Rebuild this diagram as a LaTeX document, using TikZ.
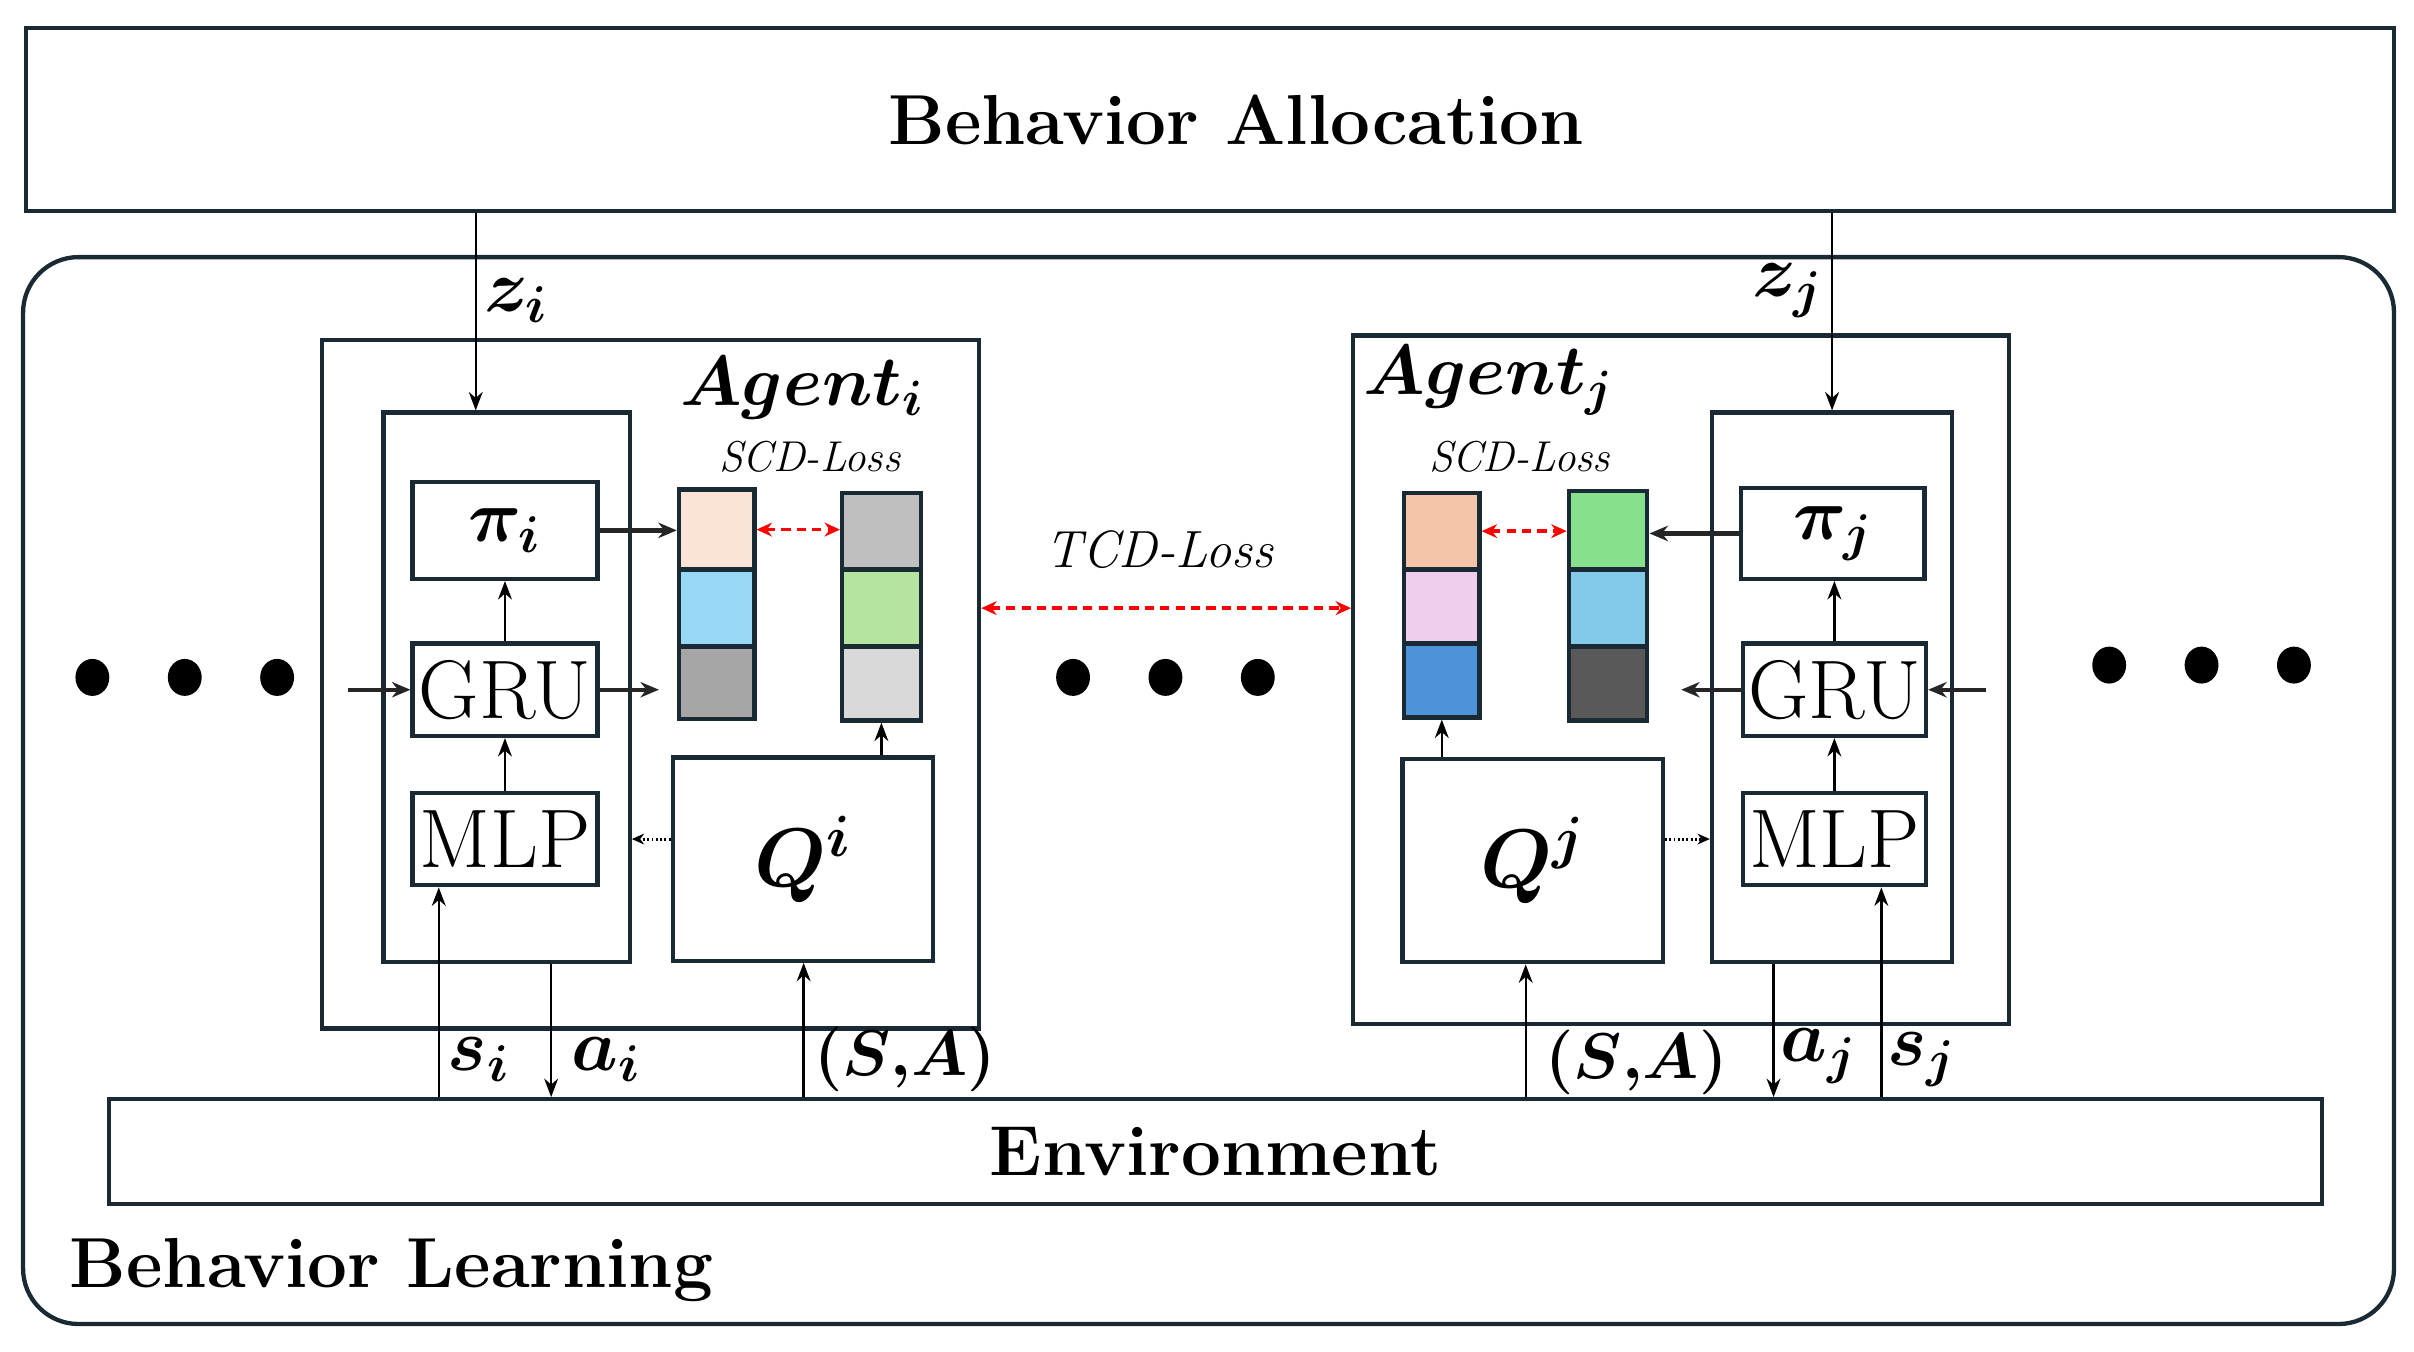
\RequirePackage{fix-cm}
\documentclass[tikz,border=0pt]{standalone}
\usepackage{amsmath,bm}
\usepackage{fontspec}
\usetikzlibrary{fit,arrows.meta,calc}
\definecolor{bc}{RGB}{25,42,52}
\definecolor{cpeachA}{RGB}{251,228,214}
\definecolor{cblueA}{RGB}{150,216,245}
\definecolor{cgrayA}{RGB}{166,166,166}
\definecolor{cgrayB}{RGB}{191,191,191}
\definecolor{cgreenB}{RGB}{180,228,160}
\definecolor{clgrayB}{RGB}{217,217,217}
\definecolor{cpeachC}{RGB}{244,197,168}
\definecolor{cpinkC}{RGB}{239,205,236}
\definecolor{cblueC}{RGB}{78,147,217}
\definecolor{cgreenD}{RGB}{134,224,140}
\definecolor{cskyD}{RGB}{130,202,232}
\definecolor{cdarkD}{RGB}{89,89,89}
\begin{document}
\begin{tikzpicture}[x=0.5pt,y=-0.5pt,
  box/.style={draw=bc, line width=1.4pt, inner sep=0pt, fill=white},
  cell/.style={draw=bc, line width=1.4pt, inner sep=0pt},
  arr/.style={-{Stealth[length=6pt,width=4.5pt]}, line width=0.75pt, black},
  arrthick/.style={-{Stealth[length=6pt,width=5pt]}, line width=1.4pt, black!85},
  dotarr/.style={-{Stealth[length=4pt,width=3.5pt]}, line width=1pt, dash pattern=on 0.6pt off 0.8pt, black},
  redarr/.style={{Stealth[length=5pt,width=4.5pt]}-{Stealth[length=5pt,width=4.5pt]}, line width=1.2pt, red, dash pattern=on 3pt off 2pt},
  bigtxt/.style={font=\fontsize{23}{27}\selectfont\bfseries, inner sep=0pt},
  lbl/.style={font=\fontsize{24}{28}\selectfont, inner sep=0pt},
  blk/.style={font=\fontsize{27}{30}\selectfont, inner sep=0pt},
  satxt/.style={font=\fontsize{21}{25}\selectfont, inner sep=0pt}
]
\useasboundingbox (0,0) rectangle (1568,877.6);

% outer boxes
\node[draw=bc, line width=1.4pt, rounded corners=18pt, inner sep=0pt, fit={(15,167)(1555,860)}] (learn) {};
\node[anchor=west, bigtxt] (learntxt) at (45,825) {Behavior Learning};
\node[box, fit={(17,18)(1555,137)}] (alloc) {};
\node[bigtxt] (alloctxt) at (803,78) {Behavior Allocation};
\node[box, fit={(71,714)(1508,782)}] (env) {};
\node[bigtxt] (envtxt) at (env.center) {Environment};

% ---------------- Agent i ----------------
\node[box, fit={(209,221)(636,668)}] (agI) {};
\node[box, fit={(249,268)(409,625)}] (inI) {};
\node[box, fit={(268,313)(388,376)}] (piI) {};
\node[lbl] (piItxt) at (piI.center) {$\bm{\pi_i}$};
\node[box, fit={(268,418)(388,478)}] (gruI) {};
\node[blk] (gruItxt) at (gruI.center) {GRU};
\node[box, fit={(268,515)(388,575)}] (mlpI) {};
\node[blk] (mlpItxt) at (mlpI.center) {MLP};
\node[box, fit={(437,492)(606,624)}] (qI) {};
\node[font=\fontsize{27}{30}\selectfont, inner sep=0pt] (qItxt) at (qI.center) {$\bm{Q^i}$};
\node[cell, fill=cpeachA, fit={(441,318)(490,370)}] (ca1) {};
\node[cell, fill=cblueA, fit={(441,370)(490,420)}] (ca2) {};
\node[cell, fill=cgrayA, fit={(441,420)(490,467)}] (ca3) {};
\node[cell, fill=cgrayB, fit={(547,320)(598,370)}] (cb1) {};
\node[cell, fill=cgreenB, fit={(547,370)(598,420)}] (cb2) {};
\node[cell, fill=clgrayB, fit={(547,420)(598,468)}] (cb3) {};
\node[font=\fontsize{23}{26}\selectfont, inner sep=0pt] (agItxt) at (521,252) {$\bm{Agent_i}$};
\node[font=\fontsize{14}{16}\selectfont\itshape, inner sep=0pt] (scdI) at (526,297) {SCD-Loss};

% ---------------- Agent j ----------------
\node[box, fit={(879,218)(1305,665)}] (agJ) {};
\node[box, fit={(1112,268)(1268,625)}] (inJ) {};
\node[box, fit={(1131,317)(1250,376)}] (piJ) {};
\node[lbl] (piJtxt) at (piJ.center) {$\bm{\pi_j}$};
\node[box, fit={(1132,418)(1251,478)}] (gruJ) {};
\node[blk] (gruJtxt) at (gruJ.center) {GRU};
\node[box, fit={(1132,515)(1251,575)}] (mlpJ) {};
\node[blk] (mlpJtxt) at (mlpJ.center) {MLP};
\node[box, fit={(911,493)(1080,625)}] (qJ) {};
\node[font=\fontsize{27}{30}\selectfont, inner sep=0pt] (qJtxt) at (qJ.center) {$\bm{Q^j}$};
\node[cell, fill=cpeachC, fit={(912,320)(961,370)}] (cc1) {};
\node[cell, fill=cpinkC, fit={(912,370)(961,418)}] (cc2) {};
\node[cell, fill=cblueC, fit={(912,418)(961,466)}] (cc3) {};
\node[cell, fill=cgreenD, fit={(1019,319)(1070,370)}] (cd1) {};
\node[cell, fill=cskyD, fit={(1019,370)(1070,420)}] (cd2) {};
\node[cell, fill=cdarkD, fit={(1019,420)(1070,468)}] (cd3) {};
\node[font=\fontsize{23}{26}\selectfont, inner sep=0pt] (agJtxt) at (967,247) {$\bm{Agent_j}$};
\node[font=\fontsize{14}{16}\selectfont\itshape, inner sep=0pt] (scdJ) at (987,297) {SCD-Loss};

\node[font=\fontsize{17}{20}\selectfont\itshape, inner sep=0pt] (tcd) at (753,357) {TCD-Loss};

% free-end coordinates
\coordinate (zi) at (309,137);
\coordinate (zj) at (1190,137);
\coordinate (giIn) at (226,448);
\coordinate (giOut) at (428,448);
\coordinate (gjOut) at (1092,448);
\coordinate (gjIn) at (1290,448);
\coordinate (si) at (285,714);
\coordinate (ai) at (358,714);
\coordinate (sai) at (522,714);
\coordinate (saj) at (991,714);
\coordinate (aj) at (1152,714);
\coordinate (sj) at (1222,714);
\coordinate (tcdy) at (0,395);

% arrows agent i
\draw[arr] (zi |- alloc.south) -- (zi |- inI.north);
\draw[arrthick] (piI.east) -- (piI.east -| ca1.west);
\draw[redarr] (ca1.east) -- (ca1.east -| cb1.west);
\draw[arrthick] (giIn) -- (giIn -| gruI.west);
\draw[arrthick] (gruI.east |- giOut) -- (giOut);
\draw[arr] (gruI.north) -- (piI.south);
\draw[arr] (mlpI.north) -- (gruI.south);
\draw[arr] (cb3.south |- qI.north) -- (cb3.south);
\draw[dotarr] (qI.west |- mlpI.east) -- (inI.east |- mlpI.east);
\draw[arr] (si |- env.north) -- (si |- mlpI.south);
\draw[arr] (ai |- inI.south) -- (ai |- env.north);
\draw[arr] (sai |- env.north) -- (sai |- qI.south);

% TCD
\draw[redarr] (agI.east |- tcdy) -- (agJ.west |- tcdy);

% arrows agent j
\draw[arr] (zj |- alloc.south) -- (zj |- inJ.north);
\draw[arrthick] (piJ.west) -- (piJ.west -| cd1.east);
\draw[redarr] (cc1.east) -- (cc1.east -| cd1.west);
\draw[arrthick] (gruJ.west |- gjOut) -- (gjOut);
\draw[arrthick] (gjIn) -- (gjIn -| gruJ.east);
\draw[arr] (gruJ.north) -- (piJ.south -| gruJ.north);
\draw[arr] (mlpJ.north) -- (gruJ.south);
\draw[arr] (cc3.south |- qJ.north) -- (cc3.south);
\draw[dotarr] (qJ.east |- mlpJ.west) -- (inJ.west |- mlpJ.west);
\draw[arr] (saj |- env.north) -- (saj |- qJ.south);
\draw[arr] (aj |- inJ.south) -- (aj |- env.north);
\draw[arr] (sj |- env.north) -- (sj |- mlpJ.south);

% labels
\node[lbl] (lzi) at (335,195) {$\bm{z_i}$};
\node[lbl] (lzj) at (1161,189) {$\bm{z_j}$};
\node[lbl] (lsi) at (311,688) {$\bm{s_i}$};
\node[lbl] (lai) at (394,688) {$\bm{a_i}$};
\node[satxt] (lsai) at (588,688) {$\bm{(S{,}A)}$};
\node[satxt] (lsaj) at (1063,690) {$\bm{(S{,}A)}$};
\node[lbl] (laj) at (1181,686) {$\bm{a_j}$};
\node[lbl] (lsj) at (1248,688) {$\bm{s_j}$};

% ellipsis dots
\foreach \x in {60,120,180} \fill (\x,440) ellipse [x radius=11, y radius=12];
\foreach \x in {697,757,817} \fill (\x,440) ellipse [x radius=11, y radius=12];
\foreach \x in {1370,1430,1490} \fill (\x,432) ellipse [x radius=11, y radius=12];
\end{tikzpicture}
\end{document}
